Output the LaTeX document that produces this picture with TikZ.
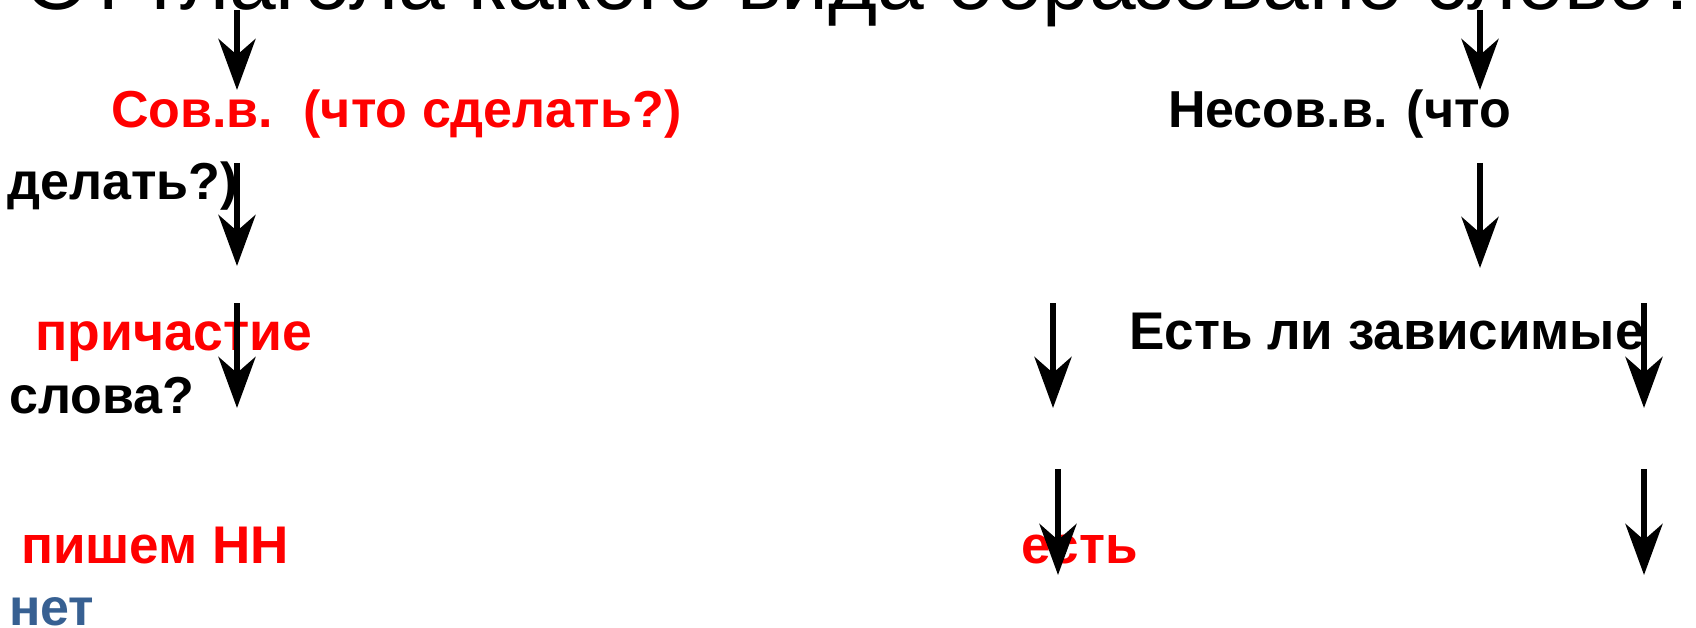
\documentclass[tikz,border=0pt]{standalone}
\usepackage{fontspec}
\setmainfont{Liberation Sans}
\usetikzlibrary{arrows.meta}
\definecolor{netblue}{RGB}{55,96,146}
\definecolor{pured}{RGB}{255,0,0}
\begin{document}
\begin{tikzpicture}[x=1pt,y=-1pt,
  lbl/.style={anchor=base west, inner sep=0pt, font=\fontsize{52}{60}\selectfont\bfseries},
  lblb/.style={anchor=base west, inner sep=0pt, font=\fontsize{53}{60}\selectfont\bfseries},
  arr/.style={line width=6.5pt, -{Stealth[length=51pt,width=37pt,inset=16pt]}}]
\useasboundingbox (0,0) rectangle (1696,628);
\clip (0,0) rectangle (1696,628);
\node[anchor=base west, inner sep=0pt, font=\fontsize{84}{90}\selectfont] (title) at (24,9.5) {От глагола какого вида образовано слово?};
% texts
\node[lbl, text=pured] (sov) at (111,128) {Сов.в.\hspace{0.58em}(что сделать?)};
\node[lbl] (nesov) at (1168,128) {Несов.в. (что};
\node[lbl] (delat) at (7,200) {делать?)};
\node[lbl, font=\fontsize{53.5}{60}\selectfont\bfseries, text=pured] (prich) at (35,350) {причастие};
\node[lblb] (estli) at (1129,349) {Есть ли зависимые};
\node[lbl] (slova) at (9,413) {слова?};
\node[lblb, text=pured] (pishem) at (21,563) {пишем НН};
\node[lblb, text=pured] (est) at (1021,563) {есть};
\node[lbl, text=netblue] (net) at (9,625) {нет};
% arrow end points
\coordinate (a1s) at (237,10);   \coordinate (a1e) at (237,90);
\coordinate (a2s) at (1480,10);  \coordinate (a2e) at (1480,90);
\coordinate (a3s) at (237,163);  \coordinate (a3e) at (237,266);
\coordinate (a4s) at (1480,163); \coordinate (a4e) at (1480,268);
\coordinate (a5s) at (237,303);  \coordinate (a5e) at (237,408);
\coordinate (a6s) at (1053,303); \coordinate (a6e) at (1053,408);
\coordinate (a7s) at (1644,303); \coordinate (a7e) at (1644,408);
\coordinate (a8s) at (1058,469); \coordinate (a8e) at (1058,575);
\coordinate (a9s) at (1644,469); \coordinate (a9e) at (1644,575);
\foreach \i in {1,...,9} \draw[arr] (a\i s) -- (a\i e);
\end{tikzpicture}
\end{document}
